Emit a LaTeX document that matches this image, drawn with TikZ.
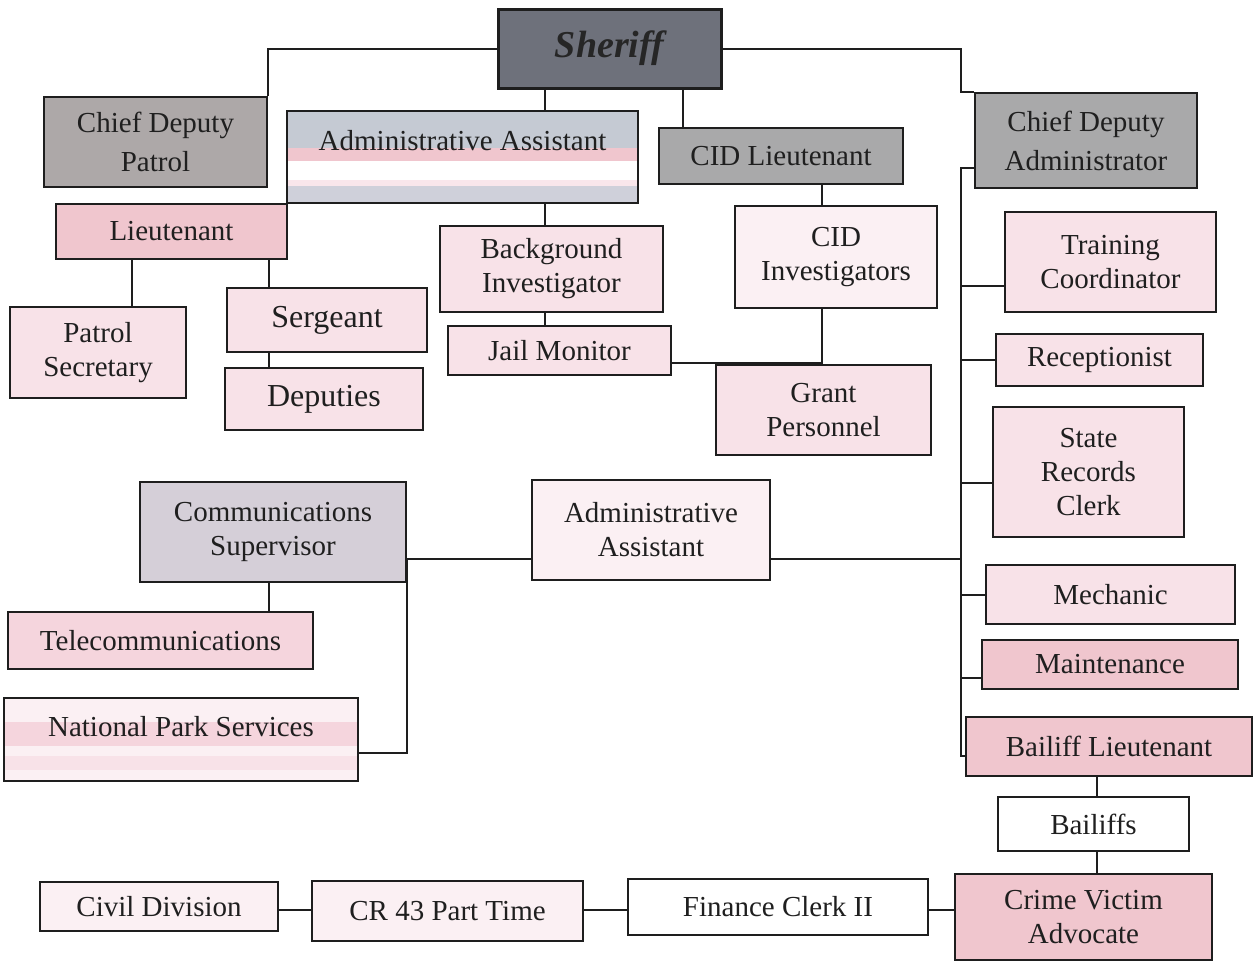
\documentclass[tikz,border=0pt]{standalone}
\usepackage{fontspec}
\setmainfont{Liberation Serif}
\usetikzlibrary{calc}
\definecolor{sheriffc}{HTML}{6E717B}
\definecolor{cdpc}{HTML}{ADA8A8}
\definecolor{grayc}{HTML}{A9A9AA}
\definecolor{pinkd}{HTML}{F0C6CE}
\definecolor{pinkm}{HTML}{F5D5DD}
\definecolor{pinkl}{HTML}{F8E2E8}
\definecolor{pinkw}{HTML}{FBF0F3}
\definecolor{csc}{HTML}{D5CFD8}
\definecolor{aatop}{HTML}{C5CAD3}
\definecolor{aabot}{HTML}{CFD0DA}
\definecolor{linec}{HTML}{1E1E1E}
\newcommand\bx[7]{\node[box,#6,minimum width={(#4-#2)*1pt},minimum height={(#5-#3)*1pt}] (#1) at ({(#2+#4)/2},{(#3+#5)/2}) {#7};}
\begin{document}
\begin{tikzpicture}[x=1pt,y=-1pt,
  box/.style={draw=linec, line width=2.2pt, inner sep=0pt, align=center,
    font=\fontsize{29}{34}\selectfont, text=black!88},
  bigtext/.style={font=\fontsize{32}{36}\selectfont},
  conn/.style={draw=linec, line width=2pt}]
\useasboundingbox[fill=white] (0,0) rectangle (1254,962);

% top row
\bx{sheriff}{498}{9}{721}{88}{fill=sheriffc, line width=3pt, text=black!85, font=\fontsize{38}{40}\selectfont\bfseries\itshape}{Sheriff}
\bx{cdp}{44}{97}{267}{187}{fill=cdpc}{Chief Deputy\\[5pt]Patrol}
\bx{aa1}{287}{111}{638}{203}{fill=white, path picture={
    \fill[aatop] (path picture bounding box.north west) rectangle ($(path picture bounding box.north east)+(0,37)$);
    \fill[pinkd] ($(path picture bounding box.north west)+(0,37)$) rectangle ($(path picture bounding box.north east)+(0,50)$);
    \fill[pinkm!60] ($(path picture bounding box.north west)+(0,69)$) rectangle ($(path picture bounding box.north east)+(0,75)$);
    \fill[aabot] ($(path picture bounding box.north west)+(0,75)$) rectangle (path picture bounding box.south east);
  }}{Administrative Assistant\\\mbox{}}
\bx{cidlt}{659}{128}{903}{184}{fill=grayc}{CID Lieutenant}
\bx{cda}{975}{93}{1197}{188}{fill=grayc}{Chief Deputy\\[5pt]Administrator}

% patrol branch
\bx{lt}{56}{204}{287}{259}{fill=pinkd}{Lieutenant}
\bx{ps}{10}{307}{186}{398}{fill=pinkl}{Patrol\\Secretary}
\bx{sgt}{227}{288}{427}{352}{fill=pinkl, bigtext}{Sergeant}
\bx{dep}{225}{368}{423}{430}{fill=pinkl, bigtext}{Deputies}

% middle branch
\bx{bg}{440}{226}{663}{312}{fill=pinkl}{Background\\Investigator}
\bx{jm}{448}{326}{671}{375}{fill=pinkl}{Jail Monitor}
\bx{cidinv}{735}{206}{937}{308}{fill=pinkw}{CID\\Investigators}
\bx{grant}{716}{365}{931}{455}{fill=pinkl}{Grant\\Personnel}

% right column
\bx{tc}{1005}{212}{1216}{312}{fill=pinkl}{Training\\Coordinator}
\bx{rec}{996}{334}{1203}{386}{fill=pinkl}{Receptionist}
\bx{src}{993}{407}{1184}{537}{fill=pinkl}{State\\Records\\Clerk}
\bx{mech}{986}{565}{1235}{624}{fill=pinkl}{Mechanic}
\bx{maint}{982}{640}{1238}{689}{fill=pinkd}{Maintenance}
\bx{bl}{966}{717}{1252}{776}{fill=pinkd}{Bailiff Lieutenant}
\bx{bailiffs}{998}{797}{1189}{851}{fill=white}{Bailiffs}
\bx{cva}{955}{874}{1212}{960}{fill=pinkd}{Crime Victim\\Advocate}

% bottom row
\bx{fin}{628}{879}{928}{935}{fill=white}{Finance Clerk II}
\bx{cr}{312}{881}{583}{941}{fill=pinkw}{CR 43 Part Time}
\bx{civ}{40}{882}{278}{931}{fill=pinkw}{Civil Division}

% communications
\bx{cs}{140}{482}{406}{582}{fill=csc}{Communications\\Supervisor}
\bx{aa2}{532}{480}{770}{580}{fill=pinkw}{Administrative\\Assistant}
\bx{tel}{8}{612}{313}{669}{fill=pinkm}{Telecommunications}
\bx{nps}{4}{698}{358}{781}{fill=pinkw, path picture={
    \fill[pinkm] ($(path picture bounding box.north west)+(0,24)$) rectangle ($(path picture bounding box.north east)+(0,48)$);
    \fill[pinkl] ($(path picture bounding box.north west)+(0,58)$) rectangle ($(path picture bounding box.north east)+(0,72)$);
  }}{National Park Services\\[-8pt]\mbox{}}

% connector coordinates
\coordinate (xA) at (545,0);
\coordinate (xB) at (683,0);
\coordinate (xC) at (822,0);
\coordinate (xD) at (132,0);
\coordinate (xE) at (269,0);
\coordinate (sp) at (961,0);
\coordinate (xF) at (1097,0);
\coordinate (ySp) at (0,168);
\coordinate (yTC) at (0,286);
\coordinate (ySRC) at (0,483);
\coordinate (yAA) at (0,559);
\coordinate (yMaint) at (0,678);
\coordinate (yBL) at (0,756);
\coordinate (yNPS) at (0,753);
\coordinate (yGJ) at (0,363);
\coordinate (yFin) at (0,910);

% connectors
\draw[conn] (sheriff.west) -| (cdp.north east);
\draw[conn] (sheriff.east) -| (sp |- cda.north) -- (cda.north west);
\draw[conn] (xA |- sheriff.south) -- (xA |- aa1.north);
\draw[conn] (xA |- aa1.south) -- (xA |- bg.north);
\draw[conn] (xA |- bg.south) -- (xA |- jm.north);
\draw[conn] (xB |- sheriff.south) -- (xB |- cidlt.north);
\draw[conn] (xC |- cidlt.south) -- (xC |- cidinv.north);
\draw[conn] (xC |- cidinv.south) -- (xC |- grant.north);
\draw[conn] (jm.east |- yGJ) -- (xC |- yGJ);
\draw[conn] (xD |- lt.south) -- (xD |- ps.north);
\draw[conn] (xE |- lt.south) -- (xE |- sgt.north);
\draw[conn] (xE |- sgt.south) -- (xE |- dep.north);
\draw[conn] (xE |- cs.south) -- (xE |- tel.north);
\draw[conn] (cda.west |- ySp) -- (sp |- ySp) -- (sp |- yBL) -- (bl.west |- yBL);
\draw[conn] (sp |- yTC) -- (tc.west |- yTC);
\draw[conn] (sp |- rec.west) -- (rec.west);
\draw[conn] (sp |- ySRC) -- (src.west |- ySRC);
\draw[conn] (cs.east |- yAA) -- (aa2.west |- yAA);
\draw[conn] (aa2.east |- yAA) -- (sp |- yAA);
\draw[conn] (sp |- mech.west) -- (mech.west);
\draw[conn] (sp |- yMaint) -- (maint.west |- yMaint);
\draw[conn] (cs.east |- yAA) -- (cs.east |- yNPS) -- (nps.east |- yNPS);
\draw[conn] (xF |- bl.south) -- (xF |- bailiffs.north);
\draw[conn] (xF |- bailiffs.south) -- (xF |- cva.north);
\draw[conn] (fin.east |- yFin) -- (cva.west |- yFin);
\draw[conn] (cr.east |- yFin) -- (fin.west |- yFin);
\draw[conn] (civ.east |- yFin) -- (cr.west |- yFin);
\end{tikzpicture}
\end{document}
